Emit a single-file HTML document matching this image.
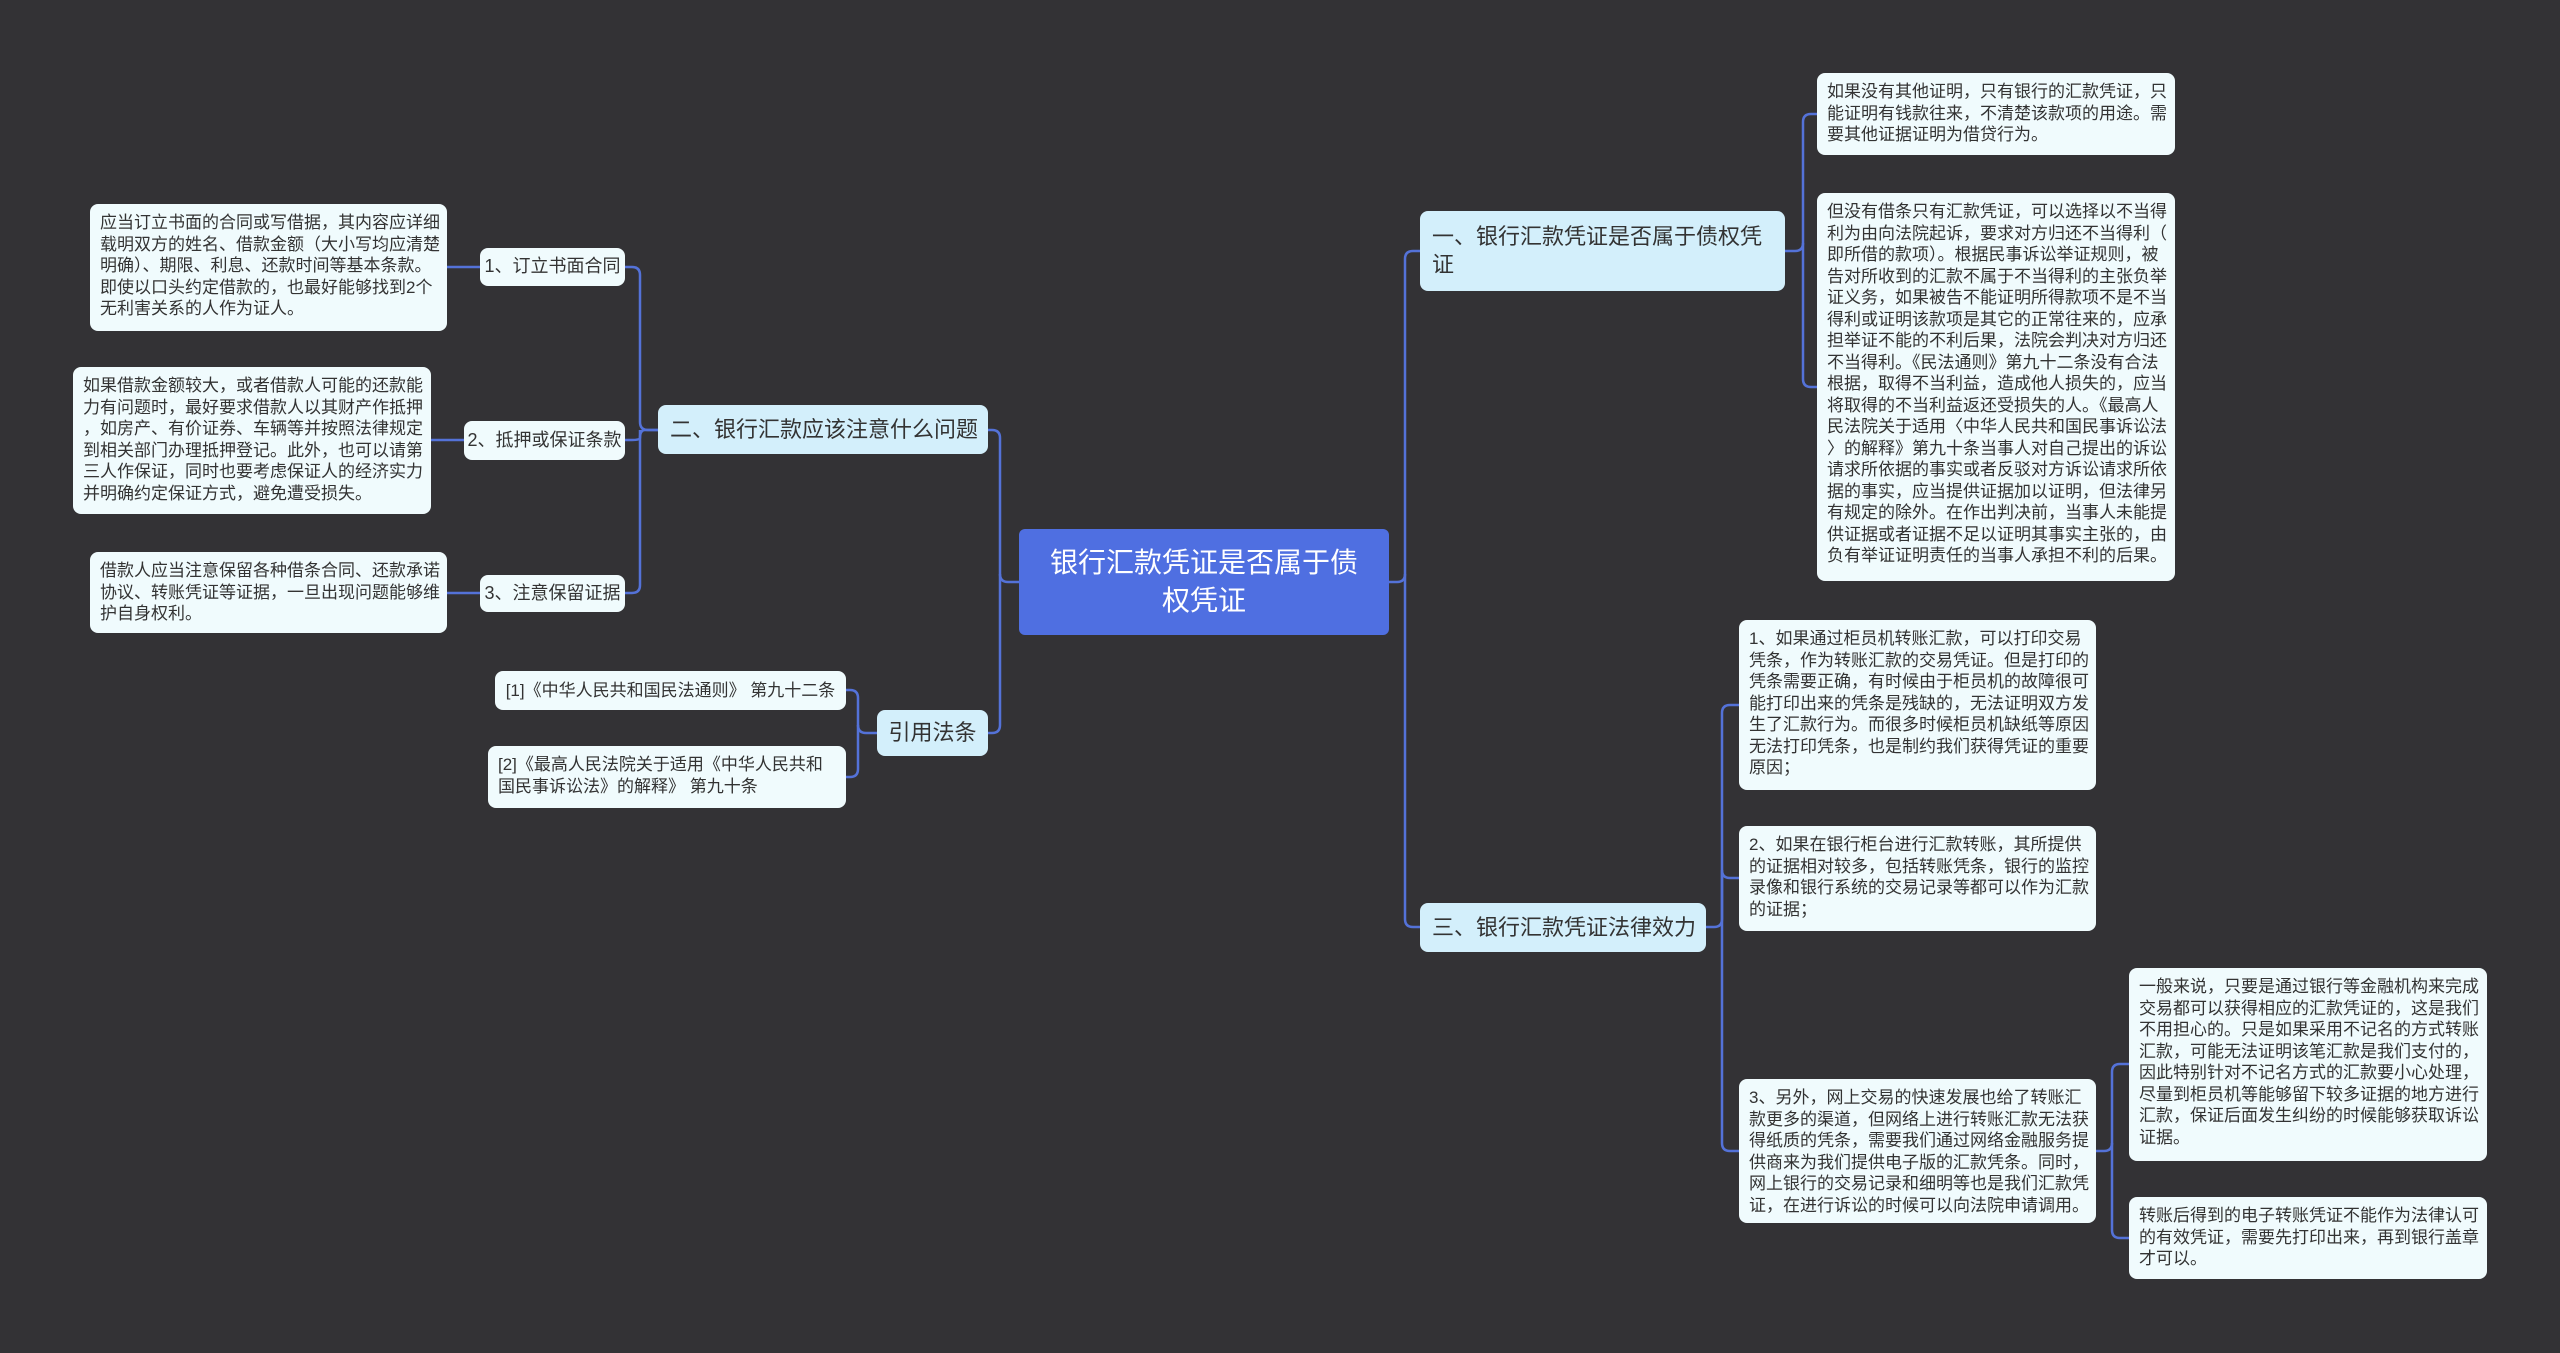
<!DOCTYPE html>
<html><head><meta charset="utf-8"><style>
body{margin:0;width:2560px;height:1353px;background:#333235;position:relative;overflow:hidden;font-family:"Liberation Sans","Noto Sans CJK SC",sans-serif}
.b{position:absolute;box-sizing:border-box;background:#f0fbfd;border-radius:8px;color:#333;font-size:17px;line-height:21.5px;padding:8px 10px;white-space:nowrap;overflow:hidden}
.l{font-size:18px;display:flex;align-items:center;justify-content:center;padding:0 6px}
.m{background:#d3effb;font-size:22px;line-height:28px;color:#333;display:flex;align-items:center;padding:0 12px}
.r{background:#4f6fe1;color:#fff;font-size:28px;line-height:38px;text-align:center;display:flex;align-items:center;justify-content:center;border-radius:6px}
svg{position:absolute;left:0;top:0}
</style></head><body>
<svg width="2560" height="1353" fill="none" stroke="#5472d8" stroke-width="2.5">
<path d="M1389 582 H1397 Q1405 582 1405 574 V259 Q1405 251 1413 251 H1420"/>
<path d="M1405 574 V919 Q1405 927 1413 927 H1420"/>
<path d="M1019 582 H1008 Q1000 582 1000 574 V438 Q1000 430 992 430 H988"/>
<path d="M1000 574 V725 Q1000 733 992 733 H988"/>
<path d="M658 430 H648 Q640 430 640 422 V275 Q640 267 632 267 H625"/>
<path d="M640 430 V585 Q640 593 632 593 H625"/>
<path d="M658 430 H645 Q640 430 640 438 M640 438 Q640 440 632 440 H625"/>
<path d="M447 267 H480 M431 440 H464 M447 593 H480"/>
<path d="M877 733 H866 Q858 733 858 725 V698 Q858 690 850 690 H846"/>
<path d="M858 725 V769 Q858 777 850 777 H846"/>
<path d="M1785 251 H1795 Q1803 251 1803 243 V122 Q1803 114 1811 114 H1817"/>
<path d="M1803 243 V379 Q1803 387 1811 387 H1817"/>
<path d="M1706 927 H1714 Q1722 927 1722 919 V713 Q1722 705 1730 705 H1739"/>
<path d="M1722 919 V870 Q1722 878 1730 878 H1739"/>
<path d="M1722 919 V1143 Q1722 1151 1730 1151 H1739"/>
<path d="M2096 1151 H2104 Q2112 1151 2112 1143 V1072 Q2112 1064 2120 1064 H2129"/>
<path d="M2112 1143 V1230 Q2112 1238 2120 1238 H2129"/>
</svg>

<div class="b r" style="left:1019px;top:529px;width:370px;height:106px">银行汇款凭证是否属于债<br>权凭证</div>

<div class="b m" style="left:1420px;top:211px;width:365px;height:80px;white-space:normal">一、银行汇款凭证是否属于债权凭证</div>
<div class="b m" style="left:1420px;top:903px;width:286px;height:49px">三、银行汇款凭证法律效力</div>
<div class="b m" style="left:658px;top:405px;width:330px;height:49px">二、银行汇款应该注意什么问题</div>
<div class="b m" style="left:877px;top:710px;width:111px;height:46px;justify-content:center">引用法条</div>

<div class="b l" style="left:480px;top:248px;width:145px;height:38px">1、订立书面合同</div>
<div class="b l" style="left:464px;top:421px;width:161px;height:39px">2、抵押或保证条款</div>
<div class="b l" style="left:480px;top:575px;width:145px;height:37px">3、注意保留证据</div>

<div class="b" style="left:90px;top:204px;width:357px;height:127px">应当订立书面的合同或写借据，其内容应详细<br>载明双方的姓名、借款金额（大小写均应清楚<br>明确）、期限、利息、还款时间等基本条款。<br>即使以口头约定借款的，也最好能够找到2个<br>无利害关系的人作为证人。</div>
<div class="b" style="left:73px;top:367px;width:358px;height:147px">如果借款金额较大，或者借款人可能的还款能<br>力有问题时，最好要求借款人以其财产作抵押<br>，如房产、有价证券、车辆等并按照法律规定<br>到相关部门办理抵押登记。此外，也可以请第<br>三人作保证，同时也要考虑保证人的经济实力<br>并明确约定保证方式，避免遭受损失。</div>
<div class="b" style="left:90px;top:552px;width:357px;height:81px">借款人应当注意保留各种借条合同、还款承诺<br>协议、转账凭证等证据，一旦出现问题能够维<br>护自身权利。</div>

<div class="b l" style="left:495px;top:671px;width:351px;height:39px;font-size:17px;padding:0 4px">[1]《中华人民共和国民法通则》 第九十二条</div>
<div class="b" style="left:488px;top:746px;width:358px;height:62px">[2]《最高人民法院关于适用《中华人民共和<br>国民事诉讼法》的解释》 第九十条</div>

<div class="b" style="left:1817px;top:73px;width:358px;height:82px">如果没有其他证明，只有银行的汇款凭证，只<br>能证明有钱款往来，不清楚该款项的用途。需<br>要其他证据证明为借贷行为。</div>
<div class="b" style="left:1817px;top:193px;width:358px;height:388px">但没有借条只有汇款凭证，可以选择以不当得<br>利为由向法院起诉，要求对方归还不当得利（<br>即所借的款项）。根据民事诉讼举证规则，被<br>告对所收到的汇款不属于不当得利的主张负举<br>证义务，如果被告不能证明所得款项不是不当<br>得利或证明该款项是其它的正常往来的，应承<br>担举证不能的不利后果，法院会判决对方归还<br>不当得利。《民法通则》第九十二条没有合法<br>根据，取得不当利益，造成他人损失的，应当<br>将取得的不当利益返还受损失的人。《最高人<br>民法院关于适用〈中华人民共和国民事诉讼法<br>〉的解释》第九十条当事人对自己提出的诉讼<br>请求所依据的事实或者反驳对方诉讼请求所依<br>据的事实，应当提供证据加以证明，但法律另<br>有规定的除外。在作出判决前，当事人未能提<br>供证据或者证据不足以证明其事实主张的，由<br>负有举证证明责任的当事人承担不利的后果。</div>

<div class="b" style="left:1739px;top:620px;width:357px;height:170px">1、如果通过柜员机转账汇款，可以打印交易<br>凭条，作为转账汇款的交易凭证。但是打印的<br>凭条需要正确，有时候由于柜员机的故障很可<br>能打印出来的凭条是残缺的，无法证明双方发<br>生了汇款行为。而很多时候柜员机缺纸等原因<br>无法打印凭条，也是制约我们获得凭证的重要<br>原因；</div>
<div class="b" style="left:1739px;top:826px;width:357px;height:105px">2、如果在银行柜台进行汇款转账，其所提供<br>的证据相对较多，包括转账凭条，银行的监控<br>录像和银行系统的交易记录等都可以作为汇款<br>的证据；</div>
<div class="b" style="left:1739px;top:1079px;width:357px;height:144px">3、另外，网上交易的快速发展也给了转账汇<br>款更多的渠道，但网络上进行转账汇款无法获<br>得纸质的凭条，需要我们通过网络金融服务提<br>供商来为我们提供电子版的汇款凭条。同时，<br>网上银行的交易记录和细明等也是我们汇款凭<br>证，在进行诉讼的时候可以向法院申请调用。</div>
<div class="b" style="left:2129px;top:968px;width:358px;height:193px">一般来说，只要是通过银行等金融机构来完成<br>交易都可以获得相应的汇款凭证的，这是我们<br>不用担心的。只是如果采用不记名的方式转账<br>汇款，可能无法证明该笔汇款是我们支付的，<br>因此特别针对不记名方式的汇款要小心处理，<br>尽量到柜员机等能够留下较多证据的地方进行<br>汇款，保证后面发生纠纷的时候能够获取诉讼<br>证据。</div>
<div class="b" style="left:2129px;top:1197px;width:358px;height:82px">转账后得到的电子转账凭证不能作为法律认可<br>的有效凭证，需要先打印出来，再到银行盖章<br>才可以。</div>
</body></html>
